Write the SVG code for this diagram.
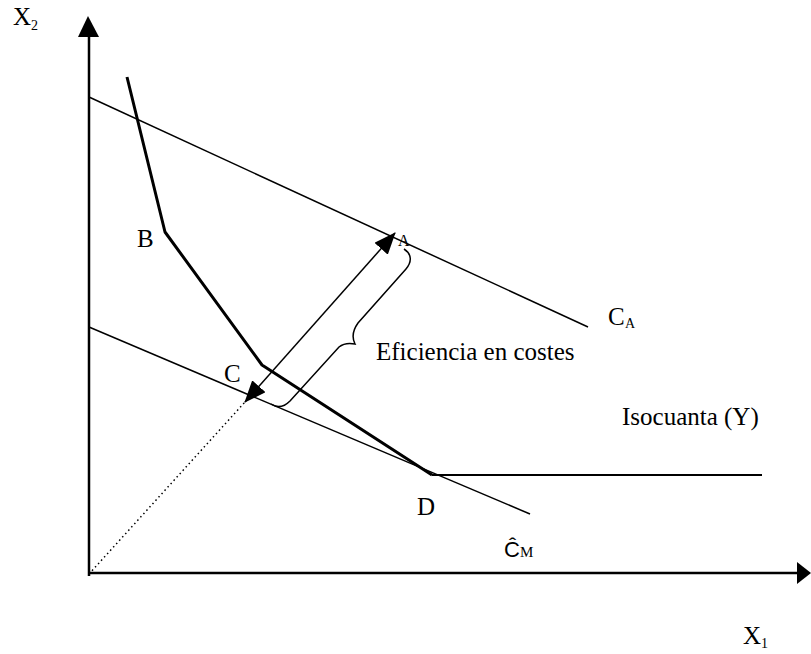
<svg xmlns="http://www.w3.org/2000/svg" width="811" height="654" viewBox="0 0 811 654">
<style>
  .t { font-family: "Liberation Serif", "Times New Roman", serif; font-size: 25px; fill: #000; }
  .sub { font-family: "Liberation Serif", "Times New Roman", serif; font-size: 14px; fill: #000; }
  .thin { stroke: #000; stroke-width: 1.5; fill: none; }
  .thick { stroke: #000; stroke-width: 3; fill: none; stroke-linejoin: round; }
</style>
<defs>
  <marker id="ahs" markerWidth="22" markerHeight="18" refX="21" refY="9" orient="auto-start-reverse" markerUnits="userSpaceOnUse" viewBox="0 0 22 18">
    <path d="M0,0 L22,9 L0,18 z" fill="#000"/>
  </marker>
</defs>
<g id="axes">
  <line x1="89" y1="576" x2="89" y2="36" stroke="#000" stroke-width="2.5"/>
  <polygon points="88,16 78,37 99,37" fill="#000"/>
  <line x1="88" y1="573" x2="799" y2="573" stroke="#000" stroke-width="2.5"/>
  <polygon points="811,573 797,562 797,584" fill="#000"/>
</g>
<g id="connectors">
  <line id="costA" class="thin" x1="89" y1="97" x2="588" y2="327"/>
  <line id="costM" class="thin" x1="89" y1="327" x2="530" y2="514"/>
  <polyline id="isoquant" class="thick" points="127,77 165,232 262,365 432,475"/>
  <line id="isoflat" x1="432" y1="475" x2="762" y2="475" stroke="#000" stroke-width="2"/>
  <line id="ray" x1="89" y1="574" x2="245" y2="402" stroke="#000" stroke-width="1.5" stroke-dasharray="1.5,3"/>
  <line id="effArrow" x1="245" y1="402" x2="395" y2="233" stroke="#000" stroke-width="1.5" marker-start="url(#ahs)" marker-end="url(#ahs)"/>
  <path id="brace" class="thin" d="M404,249 C412,254 412,262 406,269 L358,323 C353,330 352,338 355,344 C350,343 344,343 339,347 L290,401 C284,407 277,408 271,404"/>
</g>
<g id="labels">
  <g id="label-x2"><text class="t" x="13" y="25">X</text><text class="sub" x="31" y="30">2</text></g>
  <g id="label-x1"><text class="t" x="743" y="644">X</text><text class="sub" x="761" y="648">1</text></g>
  <g id="node-A"><text class="t" x="398" y="246" style="font-size:16px">A</text></g>
  <g id="node-B"><text class="t" x="137" y="247">B</text></g>
  <g id="node-C"><text class="t" x="224" y="382">C</text></g>
  <g id="node-D"><text class="t" x="417" y="515">D</text></g>
  <g id="label-CA"><text class="t" x="608" y="325">C</text><text class="sub" x="625" y="328">A</text></g>
  <g id="label-CM"><text x="504" y="557" style="font-family:'Liberation Sans',Arial,sans-serif;font-size:22px">Ĉ</text><text class="sub" x="520" y="557" style="font-size:15px">M</text></g>
  <g id="label-eff"><text class="t" x="376" y="360">Eficiencia en costes</text></g>
  <g id="label-iso"><text class="t" x="622" y="425">Isocuanta (Y)</text></g>
</g>
</svg>
